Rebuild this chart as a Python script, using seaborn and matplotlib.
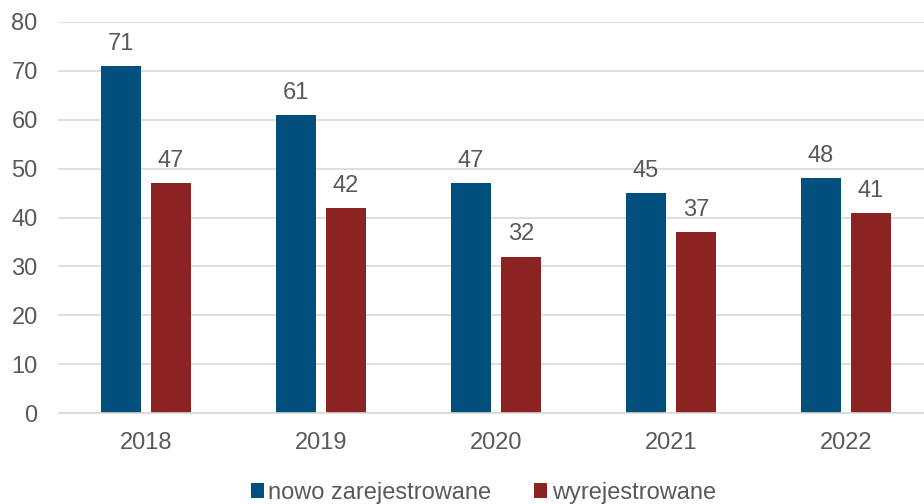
import matplotlib
matplotlib.use("Agg")
import matplotlib.pyplot as plt
from matplotlib.patches import Patch
import seaborn as sns
import pandas as pd

years = ["2018", "2019", "2020", "2021", "2022"]
registered = [71, 61, 47, 45, 48]
deregistered = [47, 42, 32, 37, 41]
series_names = ["nowo zarejestrowane", "wyrejestrowane"]
colors = ["#004f7c", "#8b2323"]
y_ticks = [0, 10, 20, 30, 40, 50, 60, 70, 80]

df = pd.DataFrame({
    "rok": years * 2,
    "liczba": registered + deregistered,
    "seria": [series_names[0]] * len(years) + [series_names[1]] * len(years),
})

sns.set_theme(style="white")
plt.rcParams["font.family"] = ["Liberation Sans", "DejaVu Sans"]
text_color = "#595959"
fs = 17

fig = plt.figure(figsize=(9.24, 5.04), dpi=100)
ax = fig.add_axes([58.5 / 924, 91 / 504, 1 - 58.5 / 924, 391 / 504])

sns.barplot(data=df, x="rok", y="liczba", hue="seria", order=years,
            hue_order=series_names, palette=colors, width=0.571, gap=0.2,
            saturation=1, legend=False, linewidth=0, ax=ax)

for container in ax.containers:
    ax.bar_label(container, fmt="%d", padding=8, fontsize=fs, color=text_color)

ax.set_ylim(0, 80)
ax.set_xlim(-0.5, (924 - 58.5) / 175 - 0.5)
ax.set_yticks(y_ticks)
ax.yaxis.grid(True, color="#d9d9d9", linewidth=1.2)
ax.set_axisbelow(True)
for side in ["top", "right", "left"]:
    ax.spines[side].set_visible(False)
ax.spines["bottom"].set_color("#d9d9d9")
ax.spines["bottom"].set_linewidth(1.2)
ax.tick_params(axis="both", length=0, labelsize=fs, labelcolor=text_color)
ax.tick_params(axis="y", pad=15)
ax.tick_params(axis="x", pad=14)
ax.set_xlabel("")
ax.set_ylabel("")

handles = [Patch(facecolor=c, edgecolor="none") for c in colors]
fig.legend(handles, series_names, loc="center", bbox_to_anchor=(0.523, 0.022),
           ncol=2, frameon=False, fontsize=fs, handlelength=0.55, handleheight=0.55,
           handletextpad=0.2, columnspacing=1.8, labelcolor=text_color)

fig.savefig("out.png", dpi=100)
